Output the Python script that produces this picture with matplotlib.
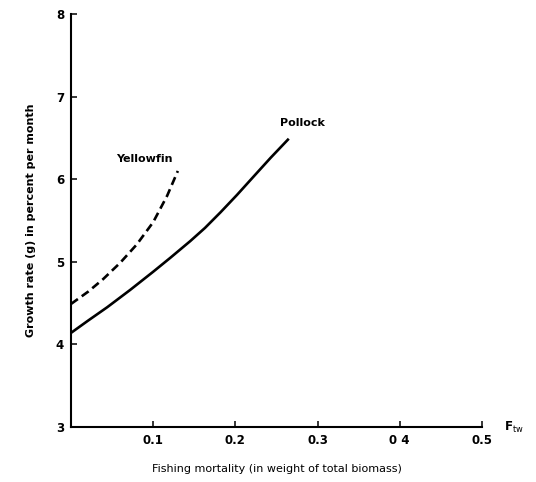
import matplotlib
matplotlib.use("Agg")
import matplotlib.pyplot as plt

# valeurs
f_pollock = [0.0, 0.021, 0.044, 0.072, 0.100, 0.121, 0.145, 0.163, 0.182, 0.202, 0.222, 0.243, 0.265]
g_pollock = [4.14, 4.29, 4.45, 4.66, 4.88, 5.05, 5.25, 5.41, 5.60, 5.81, 6.03, 6.26, 6.49]

f_yellowfin = [0.0, 0.021, 0.039, 0.060, 0.080, 0.100, 0.117, 0.130]
g_yellowfin = [4.49, 4.64, 4.79, 4.99, 5.21, 5.48, 5.80, 6.10]

x_ticks = [0.1, 0.2, 0.3, 0.4, 0.5]
x_labels = ["0.1", "0.2", "0.3", "0 4", "0.5"]
y_ticks = [3, 4, 5, 6, 7, 8]

fig = plt.figure(figsize=(5.36, 4.82), dpi=100)
ax = fig.add_axes([0.1325, 0.114, 0.7665, 0.857])

ax.plot(f_pollock, g_pollock, color="black", linewidth=1.9, solid_capstyle="butt",
        solid_joinstyle="round")
ax.plot(f_yellowfin, g_yellowfin, color="black", linewidth=1.9,
        linestyle=(0, (3.2, 1.8)), dash_capstyle="butt")

ax.text(0.089, 6.25, "Yellowfin", fontsize=8, fontweight="bold", ha="center", va="center")
ax.text(0.282, 6.68, "Pollock", fontsize=8, fontweight="bold", ha="center", va="center")

ax.set_xlim(0, 0.5)
ax.set_ylim(3, 8)
ax.set_xticks(x_ticks)
ax.set_xticklabels(x_labels)
ax.set_yticks(y_ticks)
ax.tick_params(direction="in", length=4, width=1.1, labelsize=8.5, pad=5)
for lab in ax.get_xticklabels() + ax.get_yticklabels():
    lab.set_fontweight("bold")

for side in ["top", "right"]:
    ax.spines[side].set_visible(False)
for side in ["left", "bottom"]:
    ax.spines[side].set_linewidth(1.5)

ax.set_xlabel("Fishing mortality (in weight of total biomass)", fontsize=8, labelpad=12)
ax.set_ylabel("Growth rate (g) in percent per month", fontsize=8, fontweight="bold", labelpad=14)

fig.text(0.94, 0.114, r"F$_{\rm tw}$", fontsize=8.5, fontweight="bold", ha="left", va="center")

fig.savefig("out.png", dpi=100)
